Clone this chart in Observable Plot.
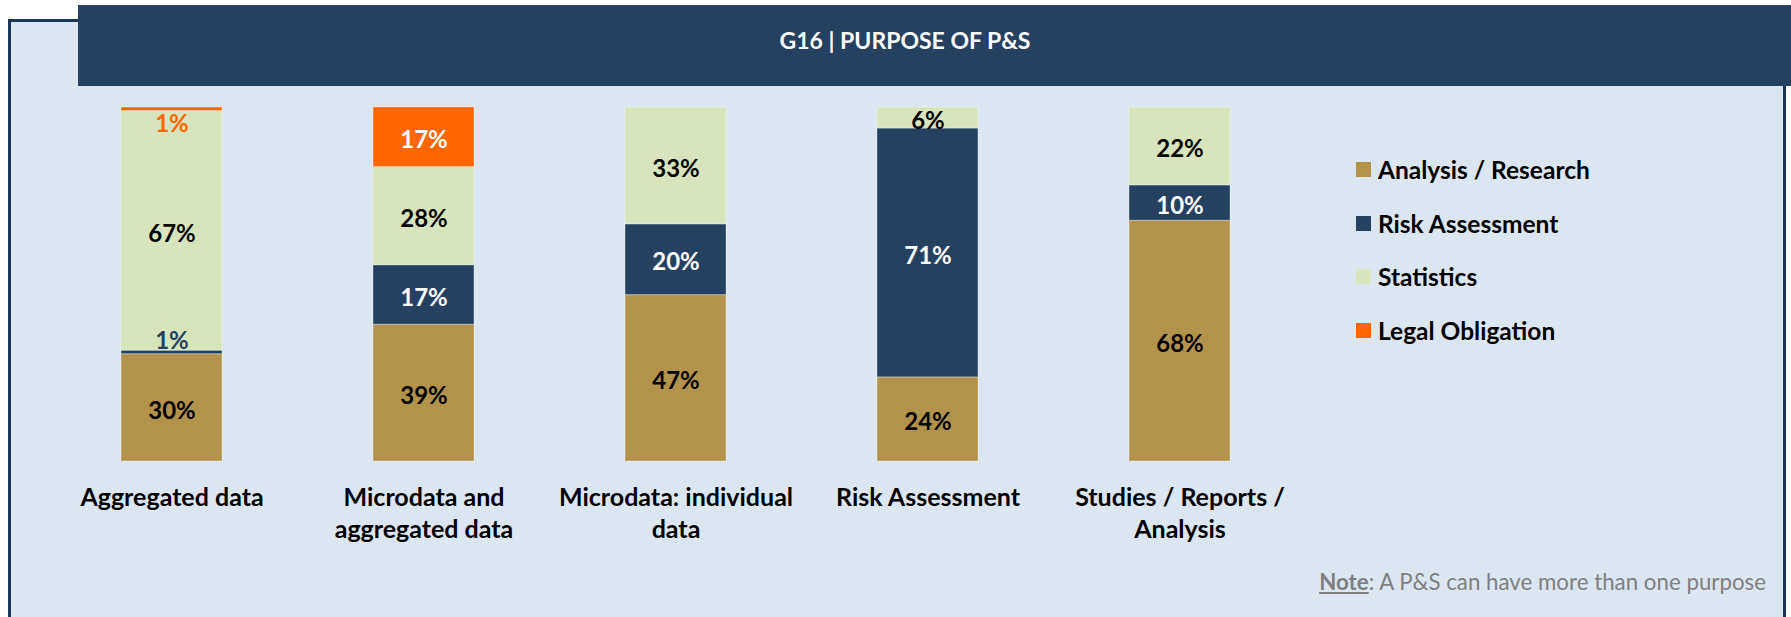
<!DOCTYPE html>
<html><head><meta charset="utf-8">
<script src="https://cdn.jsdelivr.net/npm/d3@7"></script>
<script src="https://cdn.jsdelivr.net/npm/@observablehq/plot@0.6"></script>
<style>
html,body{margin:0;padding:0;width:1791px;height:617px;overflow:hidden;background:#fff;font-family:Lato,"Open Sans",sans-serif;}
#frame{position:absolute;left:8px;top:19px;width:1778px;height:598px;box-sizing:border-box;border:3px solid #1d3557;border-bottom:none;background:#dce6f1;}
#header{position:absolute;left:78px;top:5px;width:1713px;height:81px;background:#264061;}
#title{position:absolute;left:605px;width:600px;top:27px;line-height:26px;text-align:center;color:#fff;font-weight:bold;font-size:23px;}
#chart{position:absolute;left:0;top:0;}
.leg{position:absolute;left:1356px;height:30px;display:flex;align-items:center;font-weight:bold;font-size:24.5px;color:#000;white-space:nowrap;}
.leg .sw{width:15px;height:15px;margin-right:7px;flex:none;}
#note{position:absolute;right:25px;top:569px;line-height:26px;font-size:22.3px;color:#7f7f7f;white-space:nowrap;}
#note b{text-decoration:underline;}
</style>
</head><body>
<div id="frame"></div>
<div id="header"></div>
<div id="title">G16 | PURPOSE OF P&amp;S</div>
<div id="chart"></div>
<div id="legend"></div>
<div id="note"><b>Note</b>: A P&amp;S can have more than one purpose</div>
<script>
const categories = ["Aggregated data", "Microdata and aggregated data", "Microdata: individual data", "Risk Assessment", "Studies / Reports / Analysis"];
const tickLabels = ["Aggregated data", "Microdata and\naggregated data", "Microdata: individual\ndata", "Risk Assessment", "Studies / Reports /\nAnalysis"];
const series = ["Analysis / Research", "Risk Assessment", "Statistics", "Legal Obligation"];
const colors = ["#b3924b", "#264061", "#d8e4bc", "#ff6600"];
const analysisResearch = [30, 39, 47, 24, 68];
const riskAssessment = [1, 17, 20, 71, 10];
const statistics = [67, 28, 33, 6, 22];
const legalObligation = [1, 17, 0, 0, 0];

const seriesValues = [analysisResearch, riskAssessment, statistics, legalObligation];
const data = [];
categories.forEach((c, i) => {
  series.forEach((s, j) => {
    const v = seriesValues[j][i];
    if (v > 0) data.push({category: c, series: s, value: v});
  });
});

const lightText = new Set(["Risk Assessment", "Legal Obligation"]);
const stackOpts = (extra) => Plot.stackY({x: "category", y: "value", z: "series", order: series, offset: "normalize", ...extra});
const labelFont = {fontSize: 24, fontWeight: "bold"};

const chart = Plot.plot({
  width: 1791,
  height: 617,
  marginLeft: 44,
  marginRight: 485,
  marginTop: 107,
  marginBottom: 156,
  style: {background: "transparent", fontFamily: "Lato, 'Open Sans', sans-serif", overflow: "visible"},
  x: {type: "band", domain: categories, paddingInner: 0.6, paddingOuter: 0.3},
  y: {axis: null, domain: [0, 1]},
  color: {domain: series, range: colors},
  marks: [
    Plot.barY(data, stackOpts({fill: "series", stroke: "#ffffff", strokeOpacity: 0.35, strokeWidth: 1})),
    Plot.text(data, stackOpts({text: d => d.value >= 3 && !lightText.has(d.series) ? d.value + "%" : null, fill: "black", dy: 3, ...labelFont})),
    Plot.text(data, stackOpts({text: d => d.value >= 3 && lightText.has(d.series) ? d.value + "%" : null, fill: "white", dy: 3, ...labelFont})),
    Plot.text(data, stackOpts({text: d => d.value < 3 && d.series === "Legal Obligation" ? d.value + "%" : null, fill: "series", dy: 15, ...labelFont})),
    Plot.text(data, stackOpts({text: d => d.value < 3 && d.series !== "Legal Obligation" ? d.value + "%" : null, fill: "series", dy: -11, ...labelFont})),
    Plot.axisX({tickSize: 0, tickPadding: 21, tickFormat: d => tickLabels[categories.indexOf(d)], fontSize: 25, fontWeight: "bold", lineHeight: 1.3, color: "black", label: null})
  ]
});
document.getElementById("chart").appendChild(chart);

const legendTops = [154, 208, 261, 315];
const legend = document.getElementById("legend");
series.forEach((s, i) => {
  const row = document.createElement("div");
  row.className = "leg";
  row.style.top = legendTops[i] + "px";
  const sw = document.createElement("span");
  sw.className = "sw";
  sw.style.background = colors[i];
  row.appendChild(sw);
  row.appendChild(document.createTextNode(s));
  legend.appendChild(row);
});
</script>
</body></html>
